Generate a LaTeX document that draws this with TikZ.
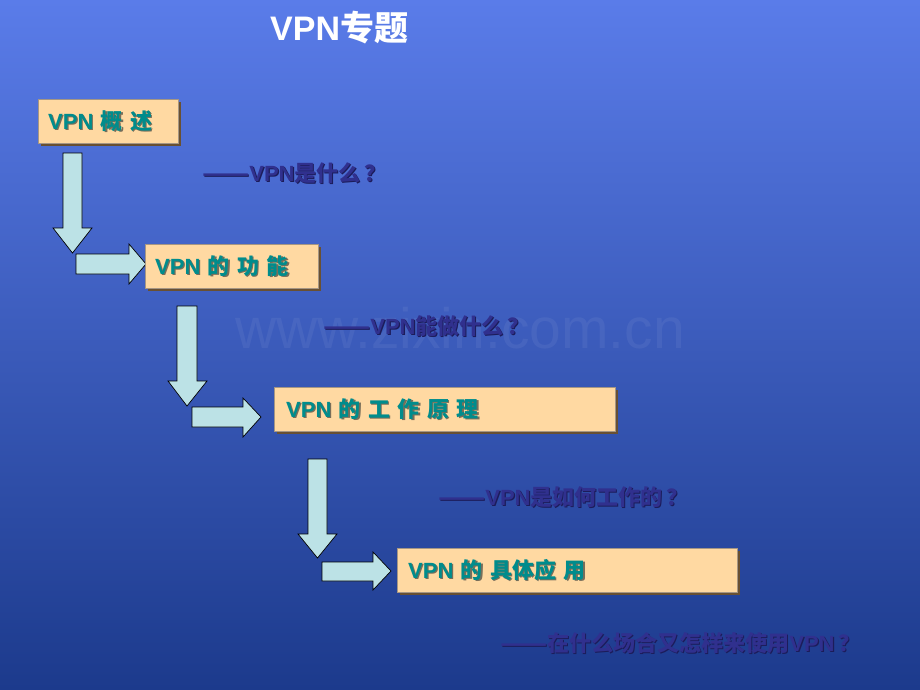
\documentclass[tikz,border=0pt]{standalone}
\usepackage{fontspec}
\setmainfont{Liberation Sans}
\newfontfamily\cjk{Noto Sans CJK SC}
\newcommand\zh[1]{{\cjk #1}}
\newcommand\dd{\scalebox{1.25}[1]{\zh{——}}}
\newcommand\qm{\kern4pt\zh{？}}
\newcommand\gap{\hspace{7.5pt}}
\usetikzlibrary{shadows}
\definecolor{bgtop}{RGB}{90,124,233}
\definecolor{bgmid}{RGB}{62,92,196}
\definecolor{bgbot}{RGB}{28,58,140}
\definecolor{peach}{RGB}{255,217,162}
\definecolor{boxedge}{RGB}{105,80,50}
\definecolor{lblcol}{RGB}{0,140,140}
\definecolor{lblsh}{RGB}{120,110,90}
\definecolor{subcol}{RGB}{48,48,142}
\definecolor{subsh}{RGB}{28,28,90}
\definecolor{arrowfill}{RGB}{188,226,230}
\newcommand\txt[4]{%
  \node[#3, text=#3sh, xshift=1.2pt, yshift=-1.2pt] at #2 {#4};
  \node[#3] (#1) at #2 {#4};}
\begin{document}
\begin{tikzpicture}[x=1pt,y=-1pt,
  box/.style={draw=boxedge!60, line width=0.6pt, fill=peach, anchor=north west,
    inner sep=0pt, minimum height=44pt,
    drop shadow={shadow xshift=3pt, shadow yshift=-3pt, fill=boxedge, opacity=1}},
  lbl/.style={anchor=west, inner sep=0pt, text=lblcol, font=\fontsize{22}{26}\selectfont\bfseries},
  sub/.style={anchor=west, inner sep=0pt, text=subcol, font=\fontsize{22}{26}\selectfont\bfseries},
  blockarrow/.style={draw=black, line width=0.7pt, fill=arrowfill, line join=miter}]
\useasboundingbox (0,0) rectangle (920,690);
\shade[top color=bgtop, middle color=bgmid, bottom color=bgbot] (0,0) rectangle (920,690);
\node[text=white, opacity=0.06, font=\fontsize{57}{60}\selectfont] (wm) at (460,328) {www.zixin.com.cn};
\node[anchor=west, inner sep=0pt, text=white, font=\fontsize{34}{40}\selectfont\bfseries] (title) at (270,28) {VPN\zh{专题}};
% block arrows
\draw[blockarrow] (63,153) -- (82,153) -- (82,228) -- (92,228) -- (72.5,253) -- (53,228) -- (63,228) -- cycle;
\draw[blockarrow] (76,254) -- (129,254) -- (129,244) -- (146,264) -- (129,284) -- (129,274) -- (76,274) -- cycle;
\draw[blockarrow] (177,306) -- (197,306) -- (197,381) -- (207,381) -- (187,406) -- (168,381) -- (177,381) -- cycle;
\draw[blockarrow] (192,407) -- (243,407) -- (243,398) -- (261,417) -- (243,437) -- (243,427) -- (192,427) -- cycle;
\draw[blockarrow] (308,459) -- (327,459) -- (327,534) -- (337,534) -- (317.5,558) -- (298,534) -- (308,534) -- cycle;
\draw[blockarrow] (322,562) -- (373,562) -- (373,552) -- (391,571) -- (373,590) -- (373,581) -- (322,581) -- cycle;
% boxes
\node[box, minimum width=140pt] (b1) at (38,99) {};
\node[box, minimum width=173pt] (b2) at (145,244) {};
\node[box, minimum width=341pt] (b3) at (274,387) {};
\node[box, minimum width=340pt] (b4) at (397,548) {};
\txt{l1}{([xshift=10pt]b1.west)}{lbl}{VPN\gap\zh{概}\gap\zh{述}}
\txt{l2}{([xshift=10pt]b2.west)}{lbl}{VPN\gap\zh{的}\gap\zh{功}\gap\zh{能}}
\txt{l3}{([xshift=12pt]b3.west)}{lbl}{VPN\gap\zh{的}\gap\zh{工}\gap\zh{作}\gap\zh{原}\gap\zh{理}}
\txt{l4}{([xshift=11pt]b4.west)}{lbl}{VPN\gap\zh{的}\gap\zh{具体应}\gap\zh{用}}
% subtitles
\txt{s1}{(202,173)}{sub}{\dd VPN\zh{是什么}\qm}
\txt{s2}{(323,326)}{sub}{\dd VPN\zh{能做什么}\qm}
\txt{s3}{(438,497)}{sub}{\dd VPN\zh{是如何工作的}\qm}
\txt{s4}{(500,643)}{sub}{\dd\zh{在什么场合又怎样来使用}VPN\qm}
\end{tikzpicture}
\end{document}
